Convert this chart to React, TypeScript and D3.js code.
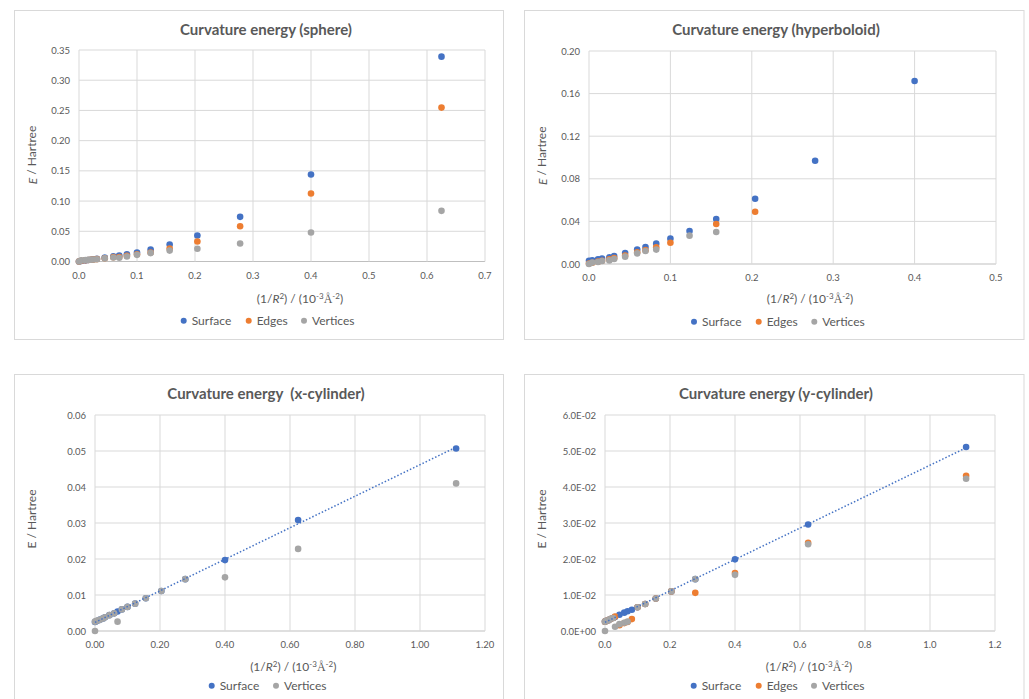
import React from "react";
import * as d3 from "d3";

const W = 1029;
const H = 699;

// 1/R^2 in 10^-3 Å^-2, energies in Hartree
const sphereX = [0, 0.004, 0.0111, 0.016, 0.0204, 0.025, 0.0309, 0.0444, 0.0592, 0.0694, 0.0826, 0.1, 0.1235, 0.1563, 0.2041, 0.2778, 0.4, 0.625];
const sphereSurface = [0, 0.0008, 0.0018, 0.0025, 0.003, 0.0036, 0.0045, 0.0064, 0.0085, 0.0099, 0.012, 0.0149, 0.0198, 0.028, 0.043, 0.0739, 0.144, 0.339];
const sphereEdges = [0, 0.0012, 0.002, 0.0026, 0.003, 0.0034, 0.004, 0.0055, 0.0072, 0.0075, 0.0095, 0.012, 0.015, 0.0215, 0.033, 0.0584, 0.1125, 0.2547];
const sphereVertices = [0, 0.0018, 0.0024, 0.0027, 0.003, 0.0034, 0.0038, 0.0052, 0.0065, 0.0062, 0.0083, 0.011, 0.0138, 0.018, 0.021, 0.0298, 0.048, 0.0838];

const hypX = [0, 0.004, 0.0111, 0.016, 0.025, 0.0309, 0.0444, 0.0592, 0.0694, 0.0826, 0.1, 0.1235, 0.1563, 0.2041, 0.2778, 0.4];
const hypSurface = [0.003, 0.0034, 0.0044, 0.005, 0.0063, 0.0075, 0.0103, 0.0135, 0.016, 0.0191, 0.0238, 0.031, 0.0423, 0.0613, 0.097, 0.1718];
const hypEdges = [0.0005, 0.0012, 0.0022, 0.003, 0.0045, 0.0055, 0.008, 0.011, 0.013, 0.0157, 0.02, null, 0.0376, 0.049, null, null];
const hypVertices = [0, 0.0013, 0.0019, 0.0028, 0.0034, 0.0047, 0.0069, 0.01, 0.0122, 0.0135, null, 0.0266, 0.03, null, null, null];

const xcylX = [0, 0, 0.004, 0.0111, 0.016, 0.025, 0.0309, 0.0444, 0.0592, 0.0694, 0.0826, 0.1, 0.1235, 0.1563, 0.2041, 0.2778, 0.4, 0.625, 1.1111];
const xcylSurface = [null, 0.0025, 0.0027, 0.003, 0.0032, 0.0035, 0.0038, 0.0044, 0.0049, 0.0054, 0.006, 0.0067, 0.0076, 0.0091, 0.0111, 0.0144, 0.0197, 0.0308, 0.0507];
const xcylVertices = [0, 0.0026, 0.0028, 0.003, 0.0032, 0.0035, 0.0038, 0.0044, 0.0049, 0.0026, 0.006, 0.0067, 0.0076, 0.0091, 0.0111, 0.0144, 0.0149, 0.0228, 0.041];

const ycylX = [0, 0, 0.004, 0.0111, 0.016, 0.025, 0.0309, 0.0444, 0.0592, 0.0694, 0.0826, 0.1, 0.1235, 0.1563, 0.2041, 0.2778, 0.4, 0.625, 1.1111];
const ycylSurface = [null, 0.0026, 0.0028, 0.003, 0.0033, 0.0036, 0.0039, 0.0045, 0.0051, 0.0055, 0.0059, 0.0066, 0.0075, 0.009, 0.011, 0.0144, 0.0199, 0.0296, 0.0511];
const ycylEdges = [null, 0.0026, 0.0028, 0.003, 0.0033, 0.0036, 0.004, 0.0016, 0.0022, 0.0025, 0.0033, 0.0066, 0.0075, 0.009, 0.011, 0.0106, 0.0161, 0.0245, 0.0431];
const ycylVertices = [0, 0.0026, 0.0028, 0.003, 0.0033, 0.0036, 0.0012, 0.0019, 0.0023, 0.0026, null, 0.0066, 0.0075, 0.009, 0.011, 0.0144, 0.0156, 0.0241, 0.0423];

const COLORS: Record<string, string> = { Surface: "#4472C4", Edges: "#ED7D31", Vertices: "#A5A5A5" };
const TEXT = "#595959";
const GRID = "#d9d9d9";
const FONT = "Lato, 'Open Sans', sans-serif";

const sciFmt = (v: number) => {
  const [m, e] = v.toExponential(1).toUpperCase().split("E");
  const n = Math.abs(+e);
  return `${m}E${+e < 0 ? "-" : "+"}${n < 10 ? "0" + n : n}`;
};

type Series = { name: string; values: (number | null)[] };

type PanelProps = {
  frame: { x: number; y: number; w: number; h: number };
  plot: { left: number; right: number; top: number; bottom: number };
  title: string;
  titlePos: [number, number];
  xTitlePos: [number, number];
  yTitlePos: [number, number];
  italicE: boolean;
  xs: number[];
  series: Series[];
  xMax: number;
  xStep: number;
  yMax: number;
  yStep: number;
  xFmt: (v: number) => string;
  yFmt: (v: number) => string;
  trend?: boolean;
  legendY: number;
  legendX: number[];
};

function Panel(p: PanelProps) {
  const { plot } = p;
  const x = d3.scaleLinear().domain([0, p.xMax]).range([plot.left, plot.right]);
  const y = d3.scaleLinear().domain([0, p.yMax]).range([plot.bottom, plot.top]);
  const xTicks = d3.range(0, p.xMax + p.xStep / 2, p.xStep);
  const yTicks = d3.range(0, p.yMax + p.yStep / 2, p.yStep);

  // linear trendline through the Surface series
  let trendLine: string | null = null;
  if (p.trend) {
    const pts = p.xs
      .map((xv, i) => [xv, p.series[0].values[i]] as [number, number | null])
      .filter((d) => d[1] != null) as [number, number][];
    const mx = d3.mean(pts, (d) => d[0])!;
    const my = d3.mean(pts, (d) => d[1])!;
    const slope = d3.sum(pts, (d) => (d[0] - mx) * (d[1] - my)) / d3.sum(pts, (d) => (d[0] - mx) ** 2);
    const icpt = my - slope * mx;
    const [x0, x1] = d3.extent(pts, (d) => d[0]) as [number, number];
    trendLine = d3.line<number>().x((v) => x(v)).y((v) => y(icpt + slope * v))([x0, x1]);
  }

  return (
    <g fontFamily={FONT}>
      <rect x={p.frame.x} y={p.frame.y} width={p.frame.w} height={p.frame.h} fill="white" stroke={GRID} />
      <text
        x={p.titlePos[0]}
        y={p.titlePos[1]}
        textAnchor="middle"
        dominantBaseline="central"
        fontSize={15}
        fontWeight="bold"
        fill={TEXT}
        style={{ whiteSpace: "pre" }}
      >
        {p.title}
      </text>
      {yTicks.map((t) => (
        <g key={"y" + t}>
          <line x1={plot.left} x2={plot.right} y1={y(t)} y2={y(t)} stroke={t === 0 ? "#bfbfbf" : GRID} />
          <text x={plot.left - 9} y={y(t)} textAnchor="end" dominantBaseline="central" fontSize={9.5} fill={TEXT}>
            {p.yFmt(t)}
          </text>
        </g>
      ))}
      {xTicks.map((t) => (
        <g key={"x" + t}>
          <line x1={x(t)} x2={x(t)} y1={plot.top} y2={plot.bottom} stroke={GRID} />
          <text x={x(t)} y={plot.bottom + 13.5} textAnchor="middle" dominantBaseline="central" fontSize={9.5} fill={TEXT}>
            {p.xFmt(t)}
          </text>
        </g>
      ))}
      {p.series.map((s) => (
        <g key={s.name} fill={COLORS[s.name]}>
          {p.xs.map((xv, i) =>
            s.values[i] == null ? null : <circle key={i} cx={x(xv)} cy={y(s.values[i] as number)} r={3.3} />
          )}
        </g>
      ))}
      {trendLine && (
        <path d={trendLine} fill="none" stroke={COLORS.Surface} strokeWidth={1.5} strokeDasharray="1.5 2" />
      )}
      <text x={p.xTitlePos[0]} y={p.xTitlePos[1] + 4} textAnchor="middle" fontSize={12} fill={TEXT}>
        (1/<tspan fontStyle="italic">R</tspan>
        <tspan dy={-4} fontSize={8}>2</tspan>
        <tspan dy={4}>) / (10</tspan>
        <tspan dy={-4} fontSize={8}>-3</tspan>
        <tspan dy={4} fontFamily="'Liberation Serif', serif">Å</tspan>
        <tspan dy={-4} fontSize={8}>-2</tspan>
        <tspan dy={4}>)</tspan>
      </text>
      <text
        transform={`translate(${p.yTitlePos[0]},${p.yTitlePos[1]}) rotate(-90)`}
        textAnchor="middle"
        dominantBaseline="central"
        fontSize={12}
        fill={TEXT}
      >
        {p.italicE ? <tspan fontStyle="italic">E</tspan> : "E"} / Hartree
      </text>
      {p.series.map((s, i) => (
        <g key={"leg" + s.name}>
          <circle cx={p.legendX[i]} cy={p.legendY} r={3} fill={COLORS[s.name]} />
          <text x={p.legendX[i] + 8} y={p.legendY} dominantBaseline="central" fontSize={12} fill={TEXT}>
            {s.name}
          </text>
        </g>
      ))}
    </g>
  );
}

const f1 = d3.format(".1f");
const f2 = d3.format(".2f");

export default function App() {
  return (
    <svg width={W} height={H} style={{ position: "absolute", left: 0, top: 0, background: "white" }}>
      <Panel
        frame={{ x: 14.5, y: 10.5, w: 489, h: 329 }}
        plot={{ left: 79, right: 485, top: 50, bottom: 261.5 }}
        title="Curvature energy (sphere)"
        titlePos={[266, 28.5]}
        xTitlePos={[300, 299.3]}
        yTitlePos={[31.7, 155]}
        italicE={true}
        xs={sphereX}
        series={[
          { name: "Surface", values: sphereSurface },
          { name: "Edges", values: sphereEdges },
          { name: "Vertices", values: sphereVertices },
        ]}
        xMax={0.7}
        xStep={0.1}
        yMax={0.35}
        yStep={0.05}
        xFmt={f1}
        yFmt={f2}
        legendY={320.7}
        legendX={[183.7, 248.7, 304]}
      />
      <Panel
        frame={{ x: 524.5, y: 10.5, w: 499.5, h: 329 }}
        plot={{ left: 589, right: 996, top: 51, bottom: 264 }}
        title="Curvature energy (hyperboloid)"
        titlePos={[776, 29]}
        xTitlePos={[810, 298.7]}
        yTitlePos={[541.7, 155.7]}
        italicE={true}
        xs={hypX}
        series={[
          { name: "Surface", values: hypSurface },
          { name: "Edges", values: hypEdges },
          { name: "Vertices", values: hypVertices },
        ]}
        xMax={0.5}
        xStep={0.1}
        yMax={0.2}
        yStep={0.04}
        xFmt={f1}
        yFmt={f2}
        legendY={321.7}
        legendX={[694, 758.7, 814.3]}
      />
      <Panel
        frame={{ x: 14.5, y: 374.5, w: 489, h: 340 }}
        plot={{ left: 95, right: 485, top: 415, bottom: 631 }}
        title="Curvature energy  (x-cylinder)"
        titlePos={[266, 393.3]}
        xTitlePos={[293.3, 666.7]}
        yTitlePos={[31.7, 519]}
        italicE={false}
        xs={xcylX}
        series={[
          { name: "Surface", values: xcylSurface },
          { name: "Vertices", values: xcylVertices },
        ]}
        xMax={1.2}
        xStep={0.2}
        yMax={0.06}
        yStep={0.01}
        xFmt={f2}
        yFmt={f2}
        trend={true}
        legendY={685.7}
        legendX={[211.7, 276]}
      />
      <Panel
        frame={{ x: 524.5, y: 374.5, w: 499.5, h: 340 }}
        plot={{ left: 605, right: 995, top: 415, bottom: 631 }}
        title="Curvature energy (y-cylinder)"
        titlePos={[776, 393]}
        xTitlePos={[809, 667]}
        yTitlePos={[541.7, 519]}
        italicE={false}
        xs={ycylX}
        series={[
          { name: "Surface", values: ycylSurface },
          { name: "Edges", values: ycylEdges },
          { name: "Vertices", values: ycylVertices },
        ]}
        xMax={1.2}
        xStep={0.2}
        yMax={0.06}
        yStep={0.01}
        xFmt={f1}
        yFmt={sciFmt}
        trend={true}
        legendY={685.7}
        legendX={[693.7, 758.7, 814]}
      />
    </svg>
  );
}
